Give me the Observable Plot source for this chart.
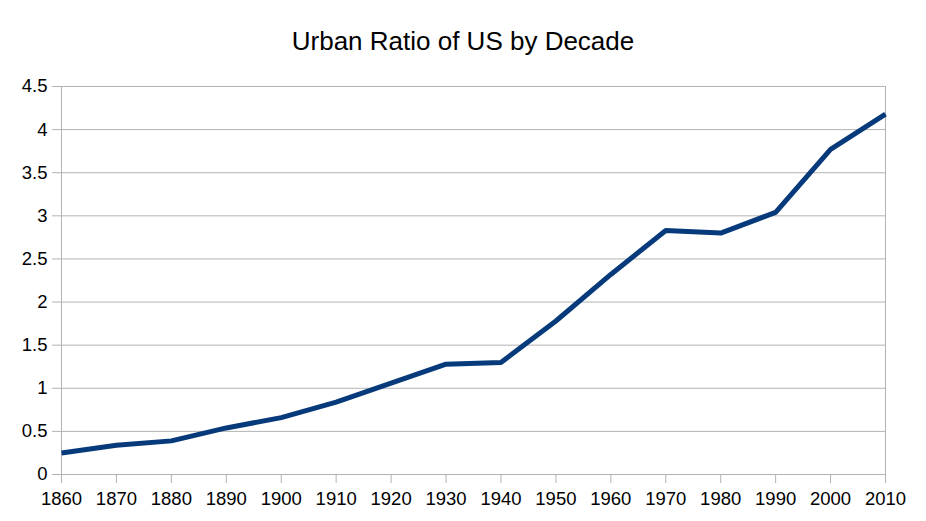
<!DOCTYPE html>
<html>
<head>
<meta charset="utf-8">
<script src="https://cdn.jsdelivr.net/npm/d3@7"></script>
<script src="https://cdn.jsdelivr.net/npm/@observablehq/plot@0.6"></script>
<style>
  html, body { margin: 0; padding: 0; background: #fff; }
  #title { height: 70px; box-sizing: border-box; padding-top: 28px; font: 26px "Liberation Sans", Arial, sans-serif; line-height: 1; text-align: center; color: #000; width: 926px; }
  #chart svg { display: block; }
</style>
</head>
<body>
<div id="title">Urban Ratio of US by Decade</div>
<div id="chart"></div>
<script>
const decades = [1860, 1870, 1880, 1890, 1900, 1910, 1920, 1930, 1940, 1950, 1960, 1970, 1980, 1990, 2000, 2010];
const urbanRatio = [0.25, 0.34, 0.39, 0.54, 0.66, 0.84, 1.06, 1.28, 1.30, 1.78, 2.32, 2.83, 2.80, 3.04, 3.77, 4.18];
const yTicks = [0, 0.5, 1, 1.5, 2, 2.5, 3, 3.5, 4, 4.5];

const data = decades.map((d, i) => ({decade: d, ratio: urbanRatio[i]}));
const gray = "#b3b3b3";

const chart = Plot.plot({
  width: 926,
  height: 451,
  marginLeft: 61,
  marginRight: 41,
  marginTop: 16,
  marginBottom: 47,
  style: {fontFamily: "'Liberation Sans', Arial, sans-serif", fontSize: "18.5px", color: "#000", background: "#fff"},
  x: {domain: [decades[0], decades[decades.length - 1]]},
  y: {domain: [0, 4.5]},
  marks: [
    Plot.ruleY(yTicks, {stroke: gray, strokeWidth: 1, strokeOpacity: 1}),
    Plot.ruleX([decades[0], decades[decades.length - 1]], {stroke: gray, strokeWidth: 1, strokeOpacity: 1}),
    Plot.axisX(decades, {tickSize: 9, tickPadding: 8, stroke: gray, strokeOpacity: 1, tickFormat: d => String(d), fill: "#000", fontSize: 18.5, label: null}),
    Plot.axisY(yTicks, {tickSize: 9, tickPadding: 5, stroke: gray, strokeOpacity: 1, tickFormat: d => String(d), fill: "#000", fontSize: 18.5, label: null}),
    Plot.line(data, {x: "decade", y: "ratio", stroke: "#073a7a", strokeWidth: 5, strokeLinejoin: "miter", strokeLinecap: "butt"})
  ]
});
document.getElementById("chart").appendChild(chart);
</script>
</body>
</html>
